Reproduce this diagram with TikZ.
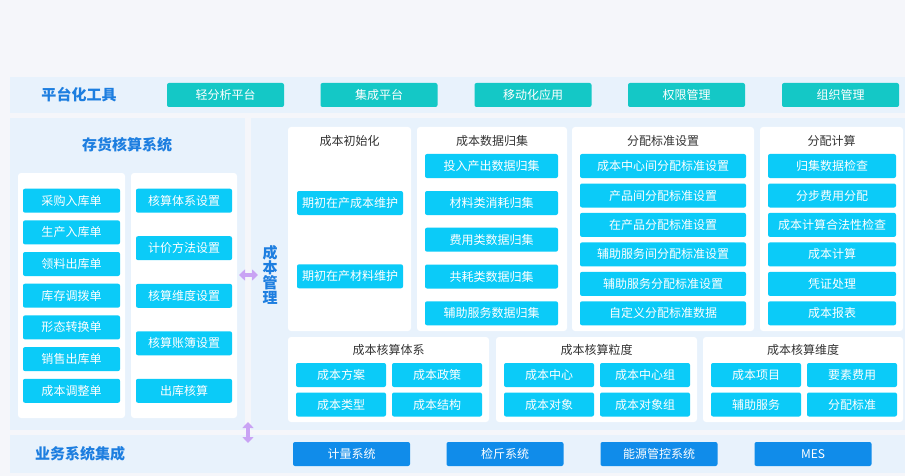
\documentclass[tikz,border=0pt]{standalone}
\usepackage{fontspec}
\setmainfont{Noto Sans CJK SC}
\usepackage{tikz}
\usetikzlibrary{arrows.meta}
\definecolor{pagebg}{HTML}{F5F6FA}
\definecolor{bandblue}{HTML}{E8F2FC}
\definecolor{tealbtn}{HTML}{14C8C6}
\definecolor{cyanbtn}{HTML}{0BCBF8}
\definecolor{bluebtn}{HTML}{108CEA}
\definecolor{headblue}{HTML}{1D7EE0}
\definecolor{arrowpurple}{HTML}{C9A3F4}
\tikzstyle{band}=[rectangle, fill=bandblue, inner sep=0pt]
\tikzstyle{panel}=[rectangle, fill=white, rounded corners=3pt, inner sep=0pt]
\tikzstyle{button}=[rectangle, rounded corners=2pt, fill=cyanbtn, text=white, inner sep=0pt, minimum height=24pt, font=\fontsize{12}{14}\selectfont]
\tikzstyle{headline}=[text=headblue, font=\fontsize{15}{15}\selectfont\bfseries]
\tikzstyle{paneltitle}=[text=black!80, font=\fontsize{12}{14}\selectfont]
\tikzstyle{twoway}=[draw=arrowpurple, line width=3.5pt, arrows={Triangle[length=6pt,width=11pt]-Triangle[length=6pt,width=11pt]}]

\begin{document}
\begin{tikzpicture}[x=1pt, y=-1pt]
    \fill[pagebg] (0,0) rectangle (905,476);
    \useasboundingbox (0,0) rectangle (905,476);
    % platform tools
    \node[band, minimum width=895pt, minimum height=36pt] (top) at (457.5, 95) {};
    \node[headline] (tool) at (79, 95) {平台化工具};
    \node[button, fill=tealbtn, minimum width=117pt] (t1) at (225.5, 95) {轻分析平台};
    \node[button, fill=tealbtn, minimum width=117pt] (t2) at (379, 95) {集成平台};
    \node[button, fill=tealbtn, minimum width=117pt] (t3) at (533, 95) {移动化应用};
    \node[button, fill=tealbtn, minimum width=117pt] (t4) at (686.5, 95) {权限管理};
    \node[button, fill=tealbtn, minimum width=117pt] (t5) at (840.5, 95) {组织管理};
    % inventory accounting
    \node[band, minimum width=235pt, minimum height=312pt] (inv) at (127.5, 274) {};
    \node[headline] (invtitle) at (127, 145) {存货核算系统};
    \node[panel, minimum width=107pt, minimum height=245pt] (invl) at (71.5, 295.5) {};
    \node[panel, minimum width=106pt, minimum height=245pt] (invr) at (184, 295.5) {};
    \node[button, minimum width=97pt] (a1) at (71.5, 200.7) {采购入库单};
    \node[button, minimum width=97pt] (a2) at (71.5, 232.4) {生产入库单};
    \node[button, minimum width=97pt] (a3) at (71.5, 264) {领料出库单};
    \node[button, minimum width=97pt] (a4) at (71.5, 295.7) {库存调拨单};
    \node[button, minimum width=97pt] (a5) at (71.5, 327.4) {形态转换单};
    \node[button, minimum width=97pt] (a6) at (71.5, 359.1) {销售出库单};
    \node[button, minimum width=97pt] (a7) at (71.5, 390.8) {成本调整单};
    \node[button, minimum width=96pt] (b1) at (184, 200.7) {核算体系设置};
    \node[button, minimum width=96pt] (b2) at (184, 248.2) {计价方法设置};
    \node[button, minimum width=96pt] (b3) at (184, 295.8) {核算维度设置};
    \node[button, minimum width=96pt] (b4) at (184, 343.3) {核算账簿设置};
    \node[button, minimum width=96pt] (b5) at (184, 390.8) {出库核算};
    % cost management
    \node[band, minimum width=654pt, minimum height=312pt] (cost) at (578, 274) {};
    \node[headline, align=center, font=\fontsize{15}{15}\selectfont\bfseries] (costtitle) at (270, 274.5) {成\\本\\管\\理};
    \node[panel, minimum width=123pt, minimum height=204pt] (p1) at (349.5, 229) {};
    \node[panel, minimum width=150pt, minimum height=204pt] (p2) at (492, 229) {};
    \node[panel, minimum width=182pt, minimum height=204pt] (p3) at (663, 229) {};
    \node[panel, minimum width=143pt, minimum height=204pt] (p4) at (831.5, 229) {};
    \node[paneltitle] (p1title) at (349.5, 141) {成本初始化};
    \node[paneltitle] (p2title) at (492, 141) {成本数据归集};
    \node[paneltitle] (p3title) at (663, 141) {分配标准设置};
    \node[paneltitle] (p4title) at (831.5, 141) {分配计算};
    \node[button, minimum width=106pt] (c1) at (350, 203) {期初在产成本维护};
    \node[button, minimum width=106pt] (c2) at (350, 276.3) {期初在产材料维护};
    \node[button, minimum width=133pt] (d1) at (491.5, 166) {投入产出数据归集};
    \node[button, minimum width=133pt] (d2) at (491.5, 203) {材料类消耗归集};
    \node[button, minimum width=133pt] (d3) at (491.5, 239.7) {费用类数据归集};
    \node[button, minimum width=133pt] (d4) at (491.5, 276.5) {共耗类数据归集};
    \node[button, minimum width=133pt] (d5) at (491.5, 313.3) {辅助服务数据归集};
    \node[button, minimum width=166pt] (e1) at (663, 166) {成本中心间分配标准设置};
    \node[button, minimum width=166pt] (e2) at (663, 195.5) {产品间分配标准设置};
    \node[button, minimum width=166pt] (e3) at (663, 224.9) {在产品分配标准设置};
    \node[button, minimum width=166pt] (e4) at (663, 254.4) {辅助服务间分配标准设置};
    \node[button, minimum width=166pt] (e5) at (663, 283.9) {辅助服务分配标准设置};
    \node[button, minimum width=166pt] (e6) at (663, 313.3) {自定义分配标准数据};
    \node[button, minimum width=128pt] (f1) at (832, 166) {归集数据检查};
    \node[button, minimum width=128pt] (f2) at (832, 195.5) {分步费用分配};
    \node[button, minimum width=128pt] (f3) at (832, 224.9) {成本计算合法性检查};
    \node[button, minimum width=128pt] (f4) at (832, 254.4) {成本计算};
    \node[button, minimum width=128pt] (f5) at (832, 283.9) {凭证处理};
    \node[button, minimum width=128pt] (f6) at (832, 313.3) {成本报表};
    % accounting dimensions
    \node[panel, minimum width=201pt, minimum height=85pt] (q1) at (388.5, 379.5) {};
    \node[panel, minimum width=201pt, minimum height=85pt] (q2) at (596.5, 379.5) {};
    \node[panel, minimum width=200pt, minimum height=85pt] (q3) at (803, 379.5) {};
    \node[paneltitle] (q1title) at (388.5, 350) {成本核算体系};
    \node[paneltitle] (q2title) at (596.5, 350) {成本核算粒度};
    \node[paneltitle] (q3title) at (803, 350) {成本核算维度};
    \node[button, minimum width=90pt] (g1) at (341, 375) {成本方案};
    \node[button, minimum width=90pt] (g2) at (437, 375) {成本政策};
    \node[button, minimum width=90pt] (g3) at (341, 404.5) {成本类型};
    \node[button, minimum width=90pt] (g4) at (437, 404.5) {成本结构};
    \node[button, minimum width=90pt] (h1) at (549, 375) {成本中心};
    \node[button, minimum width=90pt] (h2) at (645, 375) {成本中心组};
    \node[button, minimum width=90pt] (h3) at (549, 404.5) {成本对象};
    \node[button, minimum width=90pt] (h4) at (645, 404.5) {成本对象组};
    \node[button, minimum width=90pt] (k1) at (756, 375) {成本项目};
    \node[button, minimum width=90pt] (k2) at (852, 375) {要素费用};
    \node[button, minimum width=90pt] (k3) at (756, 404.5) {辅助服务};
    \node[button, minimum width=90pt] (k4) at (852, 404.5) {分配标准};
    % business systems
    \node[band, minimum width=895pt, minimum height=38pt] (bottom) at (457.5, 454) {};
    \node[headline] (biz) at (80, 454) {业务系统集成};
    \node[button, fill=bluebtn, minimum width=117pt] (s1) at (351.5, 454) {计量系统};
    \node[button, fill=bluebtn, minimum width=117pt] (s2) at (505, 454) {检斤系统};
    \node[button, fill=bluebtn, minimum width=117pt] (s3) at (659, 454) {能源管控系统};
    \node[button, fill=bluebtn, minimum width=117pt] (s4) at (813, 454) {MES};
    % links
    \coordinate (invend) at (239, 275);
    \coordinate (costend) at (258, 275);
    \coordinate (midend) at (248, 422);
    \coordinate (bizend) at (248, 443);
    \draw[twoway] (invend)--(costend);
    \draw[twoway] (midend)--(bizend);
\end{tikzpicture}
\end{document}
